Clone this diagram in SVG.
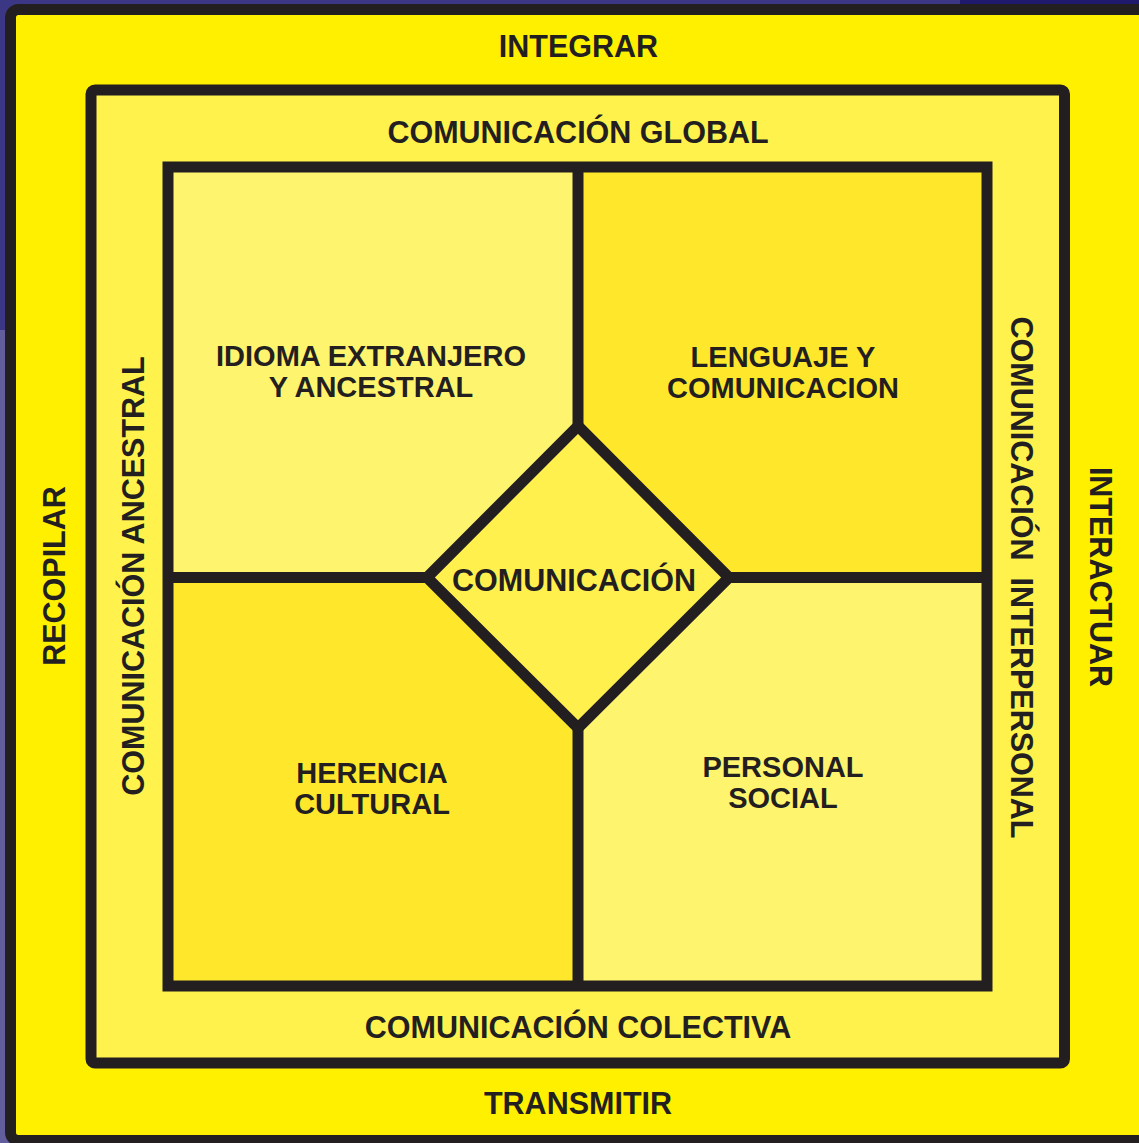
<svg xmlns="http://www.w3.org/2000/svg" width="1139" height="1143" viewBox="0 0 1139 1143">
<style>
.t{font-family:"Liberation Sans",Arial,sans-serif;font-weight:bold;fill:#231f20;text-anchor:middle}
.o{font-size:30.5px}
.q{font-size:29px}
.ln{stroke:#231f20;stroke-width:11;fill:none}
</style>
<rect x="0" y="0" width="1139" height="330" fill="#3c3784"/>
<rect x="0" y="330" width="1139" height="813" fill="#625d9c"/>
<rect x="960" y="0" width="179" height="6" fill="#1f1a6e"/>
<g id="outer">
<rect x="10.5" y="9.5" width="1140" height="1131" rx="8" class="ln" style="fill:#fff000"/>
<text class="t o" x="578.5" y="57">INTEGRAR</text>
<text class="t o" x="578" y="1114">TRANSMITIR</text>
<text class="t o" transform="translate(53.5,576) rotate(-90)" x="0" y="11">RECOPILAR</text>
<text class="t o" transform="translate(1101,577) rotate(90)" x="0" y="11">INTERACTUAR</text>
</g>
<g id="middle">
<rect x="91" y="90" width="973.5" height="973" rx="4" class="ln" style="fill:#fff24c"/>
<text class="t o" x="578" y="143">COMUNICACIÓN GLOBAL</text>
<text class="t o" x="578" y="1038">COMUNICACIÓN COLECTIVA</text>
<text class="t o" transform="translate(133,576) rotate(-90)" x="0" y="11">COMUNICACIÓN ANCESTRAL</text>
<text class="t o" transform="translate(1022,577.5) rotate(90)" x="0" y="11">COMUNICACIÓN&#160; INTERPERSONAL</text>
</g>
<g id="q-idioma">
<rect x="168" y="167" width="410" height="410.5" fill="#fff46e"/>
<text class="t q" x="371" y="366">IDIOMA EXTRANJERO</text>
<text class="t q" x="371" y="397">Y ANCESTRAL</text>
</g>
<g id="q-lenguaje">
<rect x="578" y="167" width="409" height="410.5" fill="#ffe82c"/>
<text class="t q" x="783" y="367">LENGUAJE Y</text>
<text class="t q" x="783" y="398">COMUNICACION</text>
</g>
<g id="q-herencia">
<rect x="168" y="577.5" width="410" height="408.5" fill="#ffe82c"/>
<text class="t q" x="372" y="783">HERENCIA</text>
<text class="t q" x="372" y="814">CULTURAL</text>
</g>
<g id="q-personal">
<rect x="578" y="577.5" width="409" height="408.5" fill="#fff46e"/>
<text class="t q" x="783" y="777">PERSONAL</text>
<text class="t q" x="783" y="808">SOCIAL</text>
</g>
<g id="connectors">
<rect x="168" y="167" width="819" height="819" class="ln"/>
<line x1="578" y1="167" x2="578" y2="428" class="ln"/>
<line x1="578" y1="726" x2="578" y2="986" class="ln"/>
<line x1="168" y1="577.5" x2="429" y2="577.5" class="ln"/>
<line x1="727" y1="577.5" x2="987" y2="577.5" class="ln"/>
</g>
<g id="center">
<polygon points="578,426 729,577.5 578,728 427,577.5" class="ln" style="fill:#fff04e"/>
<text class="t o" x="574" y="591">COMUNICACIÓN</text>
</g>
</svg>
